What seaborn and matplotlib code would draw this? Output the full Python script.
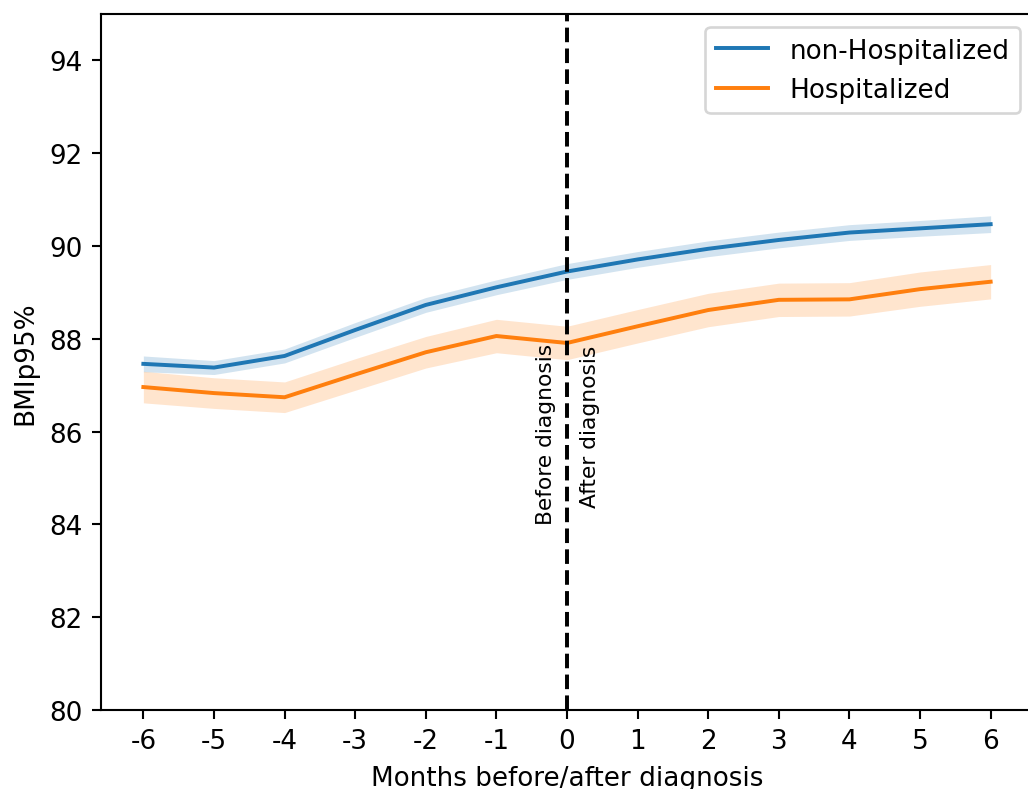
import numpy as np
import pandas as pd
import matplotlib
matplotlib.use("Agg")
import matplotlib.pyplot as plt
import seaborn as sns

months = [-6, -5, -4, -3, -2, -1, 0, 1, 2, 3, 4, 5, 6]
non_hosp = [87.46, 87.38, 87.63, 88.19, 88.73, 89.11, 89.45, 89.71, 89.94, 90.13, 90.29, 90.38, 90.47]
non_hosp_ci = [0.17, 0.15, 0.15, 0.16, 0.16, 0.16, 0.17, 0.17, 0.17, 0.17, 0.17, 0.17, 0.18]
hosp = [86.96, 86.83, 86.74, 87.23, 87.71, 88.06, 87.91, 88.27, 88.62, 88.84, 88.85, 89.07, 89.23]
hosp_ci = [0.34, 0.33, 0.33, 0.34, 0.34, 0.36, 0.36, 0.36, 0.36, 0.36, 0.36, 0.37, 0.37]
series_names = ["non-Hospitalized", "Hospitalized"]
xtick_labels = [str(m) for m in months]

plt.rcParams["axes.unicode_minus"] = False
plt.rcParams["font.family"] = ["DejaVu Sans"]

DPI = 189
W, H = 1028, 790
fig = plt.figure(figsize=(W / DPI, H / DPI), dpi=DPI)
ax = fig.add_axes([101 / W, (H - 711) / H, 932 / W, 696 / H])

palette = sns.color_palette("tab10")
x = np.array(months)
for name, vals, ci, col in [(series_names[0], non_hosp, non_hosp_ci, palette[0]),
                            (series_names[1], hosp, hosp_ci, palette[1])]:
    vals = np.array(vals)
    ci = np.array(ci)
    sns.lineplot(x=x, y=vals, ax=ax, color=col, label=name, linewidth=1.5)
    ax.fill_between(x, vals - ci, vals + ci, color=col, alpha=0.2, linewidth=0)

ax.axvline(0, color="k", linestyle="--", linewidth=1.5)
ax.text(-0.3, 84.0, "Before diagnosis", rotation=90, ha="center", va="bottom", fontsize=8.3)
ax.text(0.32, 84.38, "After diagnosis", rotation=90, ha="center", va="bottom", fontsize=8.3)

ax.set_xlim(-6.6, 6.6)
ax.set_ylim(80, 95)
ax.set_xticks(months)
ax.set_xticklabels(xtick_labels)
ax.set_yticks([80, 82, 84, 86, 88, 90, 92, 94])
ax.set_xlabel("Months before/after diagnosis")
ax.set_ylabel("BMIp95%")
ax.legend(loc="upper right")

fig.savefig("out.png", dpi=DPI)
